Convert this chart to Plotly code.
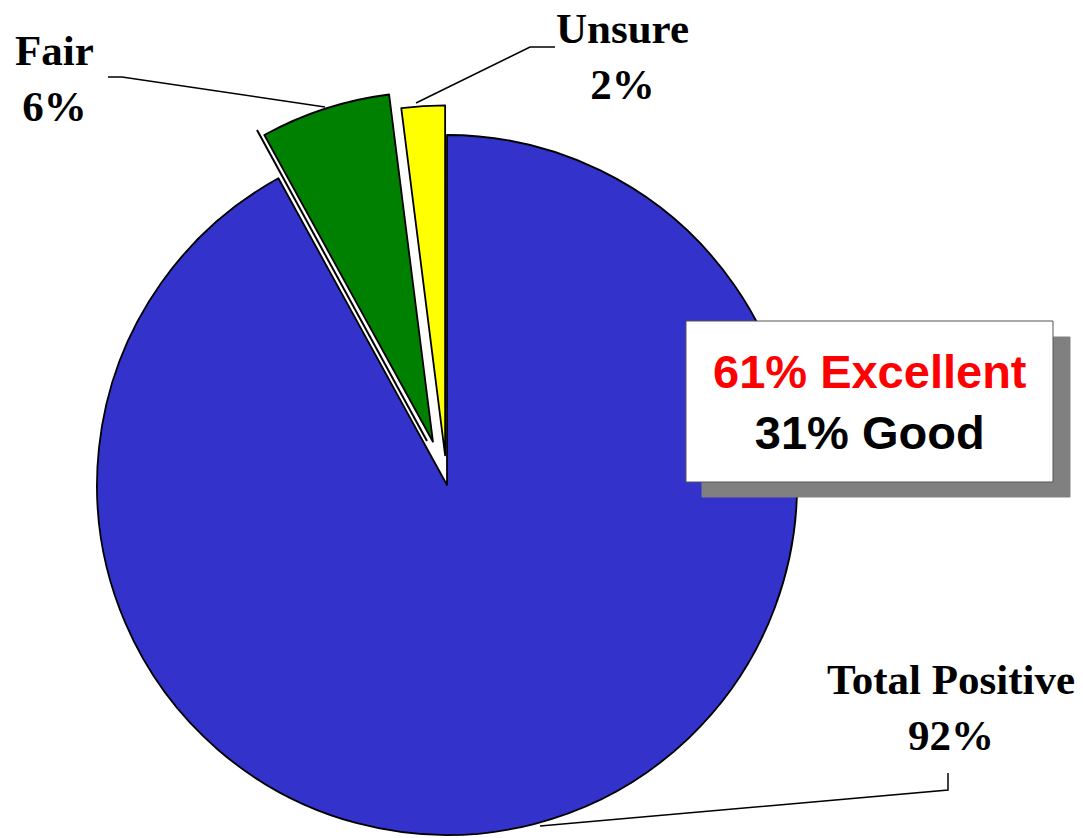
import numpy as np
import plotly.graph_objects as go

# data
labels = ["Total Positive", "Fair", "Unsure"]
values = [92, 6, 2]
colors = ["#3333CC", "#008000", "#FFFF00"]
pulls = [0, 0.13, 0.085]

box_lines = ["61% Excellent", "31% Good"]
box_colors = ["#FF0000", "#000000"]

# the page body has an 8px margin, so the figure sits at (8, 8)
OFF = 8
W, H = 1083 - OFF, 838 - OFF
CX, CY, R = 447, 485, 350


def px(x, y):
    """screen pixel -> paper coordinates (no margins)"""
    return (x - OFF) / W, 1 - (y - OFF) / H


def pie_domain(cx, cy, r):
    x0, y1 = px(cx - r, cy - r)
    x1, y0 = px(cx + r, cy + r)
    return dict(x=[x0, x1], y=[y0, y1])


fig = go.Figure()

total = sum(values)
cum = np.cumsum([0] + values[:-1])
for i, lab in enumerate(labels):
    # slice mid angle, clockwise from 12 o'clock
    mid = (cum[i] + values[i] / 2) / total * 2 * np.pi
    ox = pulls[i] * R * np.sin(mid)
    oy = -pulls[i] * R * np.cos(mid)
    fill = ["rgba(0,0,0,0)"] * len(values)
    fill[i] = colors[i]
    lw = [0] * len(values)
    lw[i] = 1.8
    fig.add_trace(go.Pie(
        labels=labels, values=values, sort=False, direction="clockwise",
        rotation=0, textinfo="none", hoverinfo="skip", showlegend=False,
        marker=dict(colors=fill, line=dict(color="black", width=lw)),
        domain=pie_domain(CX + ox, CY + oy, R),
    ))

shapes = []


def seg(pts, width=1.5, color="black"):
    path = ""
    for k, (x, y) in enumerate(pts):
        a, b = px(x, y)
        path += ("M" if k == 0 else "L") + f"{a},{b} "
    shapes.append(dict(type="path", xref="paper", yref="paper", path=path,
                       line=dict(color=color, width=width)))


# extra edge line beside the Fair slice
seg([(257, 130), (427, 441)], width=2)

# leader lines
seg([(108, 77), (122, 77), (325, 107)])
seg([(416, 103), (530, 47), (555, 47)])
seg([(540, 826), (948, 790), (948, 773)])

# text box with shadow
for (x0, y0, x1, y1, fc, lc) in [(702, 337, 1070, 497, "#808080", "#808080"),
                                 (686, 321, 1053, 482, "white", "#555555")]:
    a0, b1 = px(x0, y0)
    a1, b0 = px(x1, y1)
    shapes.append(dict(type="rect", xref="paper", yref="paper",
                       x0=a0, x1=a1, y0=b0, y1=b1, fillcolor=fc,
                       line=dict(color=lc, width=1)))

annotations = []
serif = dict(family="Liberation Serif, Times New Roman, serif", size=43, color="black")

label_pos = {"Fair": (54, 79), "Unsure": (622, 56), "Total Positive": (951, 707)}
for lab, v in zip(labels, values):
    x, y = px(*label_pos[lab])
    annotations.append(dict(x=x, y=y, xref="paper", yref="paper",
                            text=f"<b>{lab}</b><br><b>{v}%</b>", showarrow=False,
                            font=serif, xanchor="center", yanchor="middle"))

bx, by = px(869.5, 402)
annotations.append(dict(
    x=bx, y=by, xref="paper", yref="paper", showarrow=False,
    text="<br>".join(f"<b><span style='color:{c}'>{t}</span></b>"
                     for t, c in zip(box_lines, box_colors)),
    font=dict(family="Liberation Sans, Arial, sans-serif", size=47, color="black"),
    xanchor="center", yanchor="middle"))

fig.update_layout(
    width=W, height=H, margin=dict(l=0, r=0, t=0, b=0),
    paper_bgcolor="white", plot_bgcolor="white",
    shapes=shapes, annotations=annotations,
)

fig.write_html("out.html")
